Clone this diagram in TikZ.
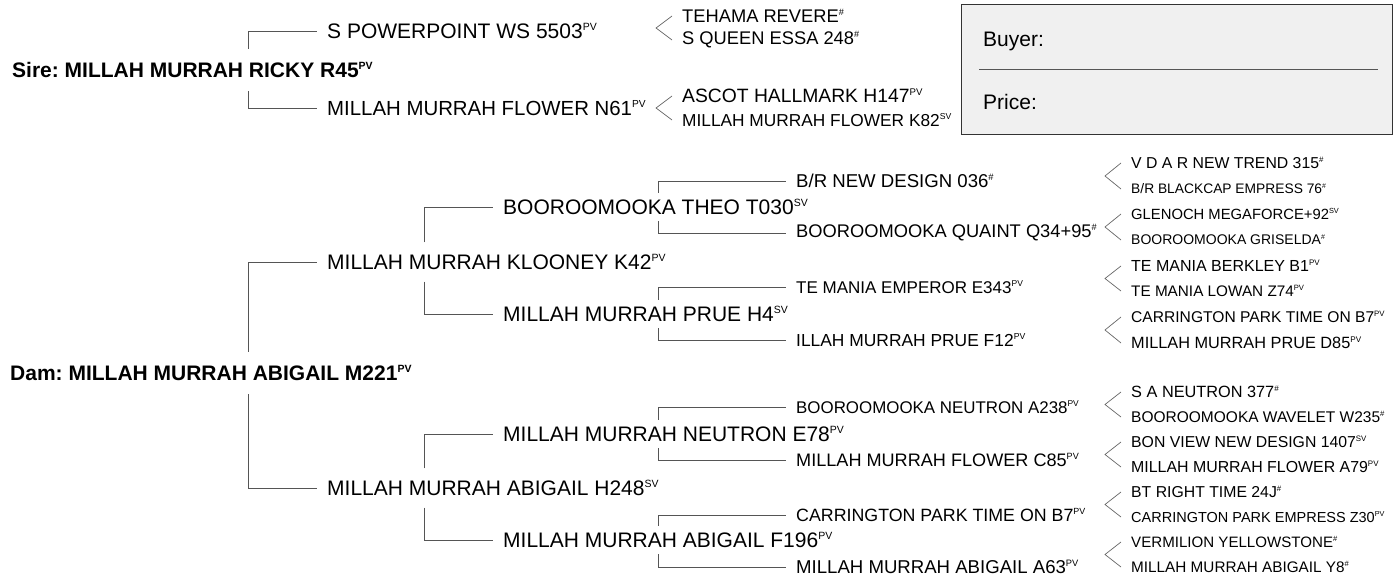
\documentclass[tikz,border=0pt]{standalone}
\usepackage{fontspec}
\setmainfont{Liberation Sans}
\usetikzlibrary{calc}
\definecolor{cline}{HTML}{555555}
\definecolor{cfork}{HTML}{666666}
\definecolor{cbox}{HTML}{F0F0F0}
\definecolor{cedge}{HTML}{333333}
\frenchspacing
\newcommand{\fs}[1]{\fontsize{#1}{#1}\selectfont}
\newcommand{\tagup}[1]{\raisebox{0.38em}{\scalebox{0.5}{#1}}}
\newcommand{\PV}{\tagup{PV}}
\newcommand{\SV}{\tagup{SV}}
\newcommand{\HS}{\tagup{\#}}
\newcommand{\pairfork}[2]{\draw[fork] ($(#1.west)+(-10,0)$) -- ($(#1.west)!.5!(#2.west)+(-26,0)$) -- ($(#2.west)+(-10,0)$);}

\begin{document}
\begin{tikzpicture}[x=1pt,y=-1pt,
    animal/.style={anchor=west,inner sep=0pt,minimum height=42pt,font=\fs{21}\bfseries},
    gen1/.style={anchor=west,inner sep=0pt,minimum height=39pt,font=\fs{#1}},gen1/.default=21,
    gen2/.style={anchor=west,inner sep=0pt,minimum height=28pt,font=\fs{21}},
    gen3/.style={anchor=west,inner sep=0pt,font=\fs{#1}},gen3/.default=18.5,
    gen4/.style={anchor=west,inner sep=0pt,font=\fs{#1}},gen4/.default=15.5,
    link/.style={draw=cline,line width=0.9pt,shorten >=10pt},
    fork/.style={draw=cfork,line width=0.7pt}]
    \useasboundingbox (0,0) rectangle (1393,588);
    \coordinate (x0) at (248,0);
    \coordinate (x1) at (424,0);
    \coordinate (x2) at (658,0);

    \node[animal] (sire) at (12,70) {Sire: MILLAH MURRAH RICKY R45\PV};
    \node[gen1] (sS) at (327,31) {S POWERPOINT WS 5503\PV};
    \node[gen1=20.4] (sD) at (327,108) {MILLAH MURRAH FLOWER N61\PV};
    \node[gen4=18.3] (sSS) at (682,16) {TEHAMA REVERE\HS};
    \node[gen4=18.3] (sSD) at (682,40) {S QUEEN ESSA 248\HS};
    \node[gen4=19.3] (sDS) at (682,96) {ASCOT HALLMARK H147\PV};
    \node[gen4=17.3] (sDD) at (682,120) {MILLAH MURRAH FLOWER K82\SV};

    \node[draw=cedge,fill=cbox,line width=0.8pt,anchor=north west,inner sep=0pt,minimum width=431pt,minimum height=130pt] (sale) at (961,4) {};
    \node[anchor=base west,inner sep=0pt,font=\fs{21}] (buyer) at (983,47) {Buyer:};
    \node[anchor=base west,inner sep=0pt,font=\fs{21}] (price) at (983,110) {Price:};
    \draw[cline,line width=0.9pt] ([xshift=18pt]sale.west) -- ([xshift=-15pt]sale.east);

    \node[animal] (dam) at (10,373) {Dam: MILLAH MURRAH ABIGAIL M221\PV};
    \node[gen1] (dS) at (327,262) {MILLAH MURRAH KLOONEY K42\PV};
    \node[gen1] (dD) at (327,488) {MILLAH MURRAH ABIGAIL H248\SV};
    \node[gen2] (dSS) at (503,207) {BOOROOMOOKA THEO T030\SV};
    \node[gen2] (dSD) at (503,314) {MILLAH MURRAH PRUE H4\SV};
    \node[gen2] (dDS) at (503,434) {MILLAH MURRAH NEUTRON E78\PV};
    \node[gen2] (dDD) at (503,540) {MILLAH MURRAH ABIGAIL F196\PV};
    \node[gen3=18.6] (dSSS) at (796,181) {B/R NEW DESIGN 036\HS};
    \node[gen3=18.3] (dSSD) at (796,233) {BOOROOMOOKA QUAINT Q34+95\HS};
    \node[gen3=17] (dSDS) at (796,287) {TE MANIA EMPEROR E343\PV};
    \node[gen3=17.4] (dSDD) at (796,340) {ILLAH MURRAH PRUE F12\PV};
    \node[gen3=16.9] (dDSS) at (796,407) {BOOROOMOOKA NEUTRON A238\PV};
    \node[gen3=18.1] (dDSD) at (796,460) {MILLAH MURRAH FLOWER C85\PV};
    \node[gen3=17.8] (dDDS) at (796,515) {CARRINGTON PARK TIME ON B7\PV};
    \node[gen3=18.6] (dDDD) at (796,567) {MILLAH MURRAH ABIGAIL A63\PV};
    \node[gen4=15.8] (dSSSS) at (1131,163) {V D A R NEW TREND 315\HS};
    \node[gen4=13.8] (dSSSD) at (1131,189) {B/R BLACKCAP EMPRESS 76\HS};
    \node[gen4=14.8] (dSSDS) at (1131,214) {GLENOCH MEGAFORCE+92\SV};
    \node[gen4=14] (dSSDD) at (1131,240) {BOOROOMOOKA GRISELDA\HS};
    \node[gen4=16] (dSDSS) at (1131,266) {TE MANIA BERKLEY B1\PV};
    \node[gen4=15.3] (dSDSD) at (1131,291) {TE MANIA LOWAN Z74\PV};
    \node[gen4=15.6] (dSDDS) at (1131,317) {CARRINGTON PARK TIME ON B7\PV};
    \node[gen4=16.3] (dSDDD) at (1131,343) {MILLAH MURRAH PRUE D85\PV};
    \node[gen4=16.3] (dDSSS) at (1131,392) {S A NEUTRON 377\HS};
    \node[gen4] (dDSSD) at (1131,417) {BOOROOMOOKA WAVELET W235\HS};
    \node[gen4=15.8] (dDSDS) at (1131,442) {BON VIEW NEW DESIGN 1407\SV};
    \node[gen4=15.9] (dDSDD) at (1131,467) {MILLAH MURRAH FLOWER A79\PV};
    \node[gen4=15.8] (dDDSS) at (1131,492) {BT RIGHT TIME 24J\HS};
    \node[gen4=14.5] (dDDSD) at (1131,517) {CARRINGTON PARK EMPRESS Z30\PV};
    \node[gen4=15.1] (dDDDS) at (1131,542) {VERMILION YELLOWSTONE\HS};
    \node[gen4=15.3] (dDDDD) at (1131,567) {MILLAH MURRAH ABIGAIL Y8\HS};

    \draw[link] (sire.north -| x0) |- (sS.west);
    \draw[link] (sire.south -| x0) |- (sD.west);
    \draw[link] (dam.north -| x0) |- (dS.west);
    \draw[link] (dam.south -| x0) |- (dD.west);
    \draw[link] (dS.north -| x1) |- (dSS.west);
    \draw[link] (dS.south -| x1) |- (dSD.west);
    \draw[link] (dD.north -| x1) |- (dDS.west);
    \draw[link] (dD.south -| x1) |- (dDD.west);
    \draw[link] (dSS.north -| x2) |- (dSSS.west);
    \draw[link] (dSS.south -| x2) |- (dSSD.west);
    \draw[link] (dSD.north -| x2) |- (dSDS.west);
    \draw[link] (dSD.south -| x2) |- (dSDD.west);
    \draw[link] (dDS.north -| x2) |- (dDSS.west);
    \draw[link] (dDS.south -| x2) |- (dDSD.west);
    \draw[link] (dDD.north -| x2) |- (dDDS.west);
    \draw[link] (dDD.south -| x2) |- (dDDD.west);

    \pairfork{sSS}{sSD}
    \pairfork{sDS}{sDD}
    \pairfork{dSSSS}{dSSSD}
    \pairfork{dSSDS}{dSSDD}
    \pairfork{dSDSS}{dSDSD}
    \pairfork{dSDDS}{dSDDD}
    \pairfork{dDSSS}{dDSSD}
    \pairfork{dDSDS}{dDSDD}
    \pairfork{dDDSS}{dDDSD}
    \pairfork{dDDDS}{dDDDD}
\end{tikzpicture}
\end{document}
